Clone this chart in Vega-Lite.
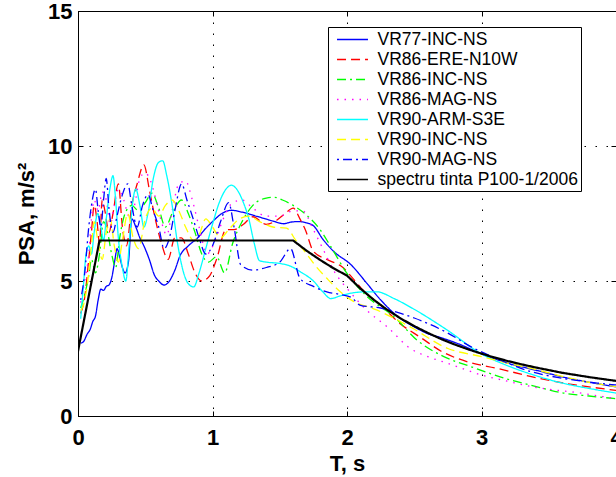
{
  "$schema": "https://vega.github.io/schema/vega-lite/v6.json",
  "width": 538,
  "height": 405,
  "autosize": {"type": "none"},
  "padding": {"left": 78, "top": 11, "right": 0, "bottom": 61},
  "background": "white",
  "config": {
    "view": {"stroke": "black", "strokeWidth": 1},
    "font": "Liberation Sans",
    "axis": {
      "domainColor": "black",
      "tickColor": "black",
      "tickSize": -5,
      "labelColor": "black",
      "labelFont": "Liberation Sans",
      "labelFontSize": 22,
      "labelFontWeight": "bold",
      "labelFlush": false,
      "titleFont": "Liberation Sans",
      "titleFontSize": 22,
      "titleFontWeight": "bold",
      "titleColor": "black",
      "gridColor": "black",
      "gridOpacity": 1,
      "gridDash": [1.5, 9.5],
      "gridWidth": 1
    },
    "legend": {
      "orient": "none",
      "legendX": 250,
      "legendY": 16,
      "strokeColor": "black",
      "fillColor": "white",
      "padding": 2.5,
      "labelFont": "Liberation Sans",
      "labelFontSize": 17.5,
      "labelColor": "black",
      "labelLimit": 400,
      "symbolType": "M-1.72,0H1.72",
      "symbolSize": 324,
      "symbolStrokeWidth": 1.6,
      "rowPadding": 1,
      "labelOffset": 15,
      "symbolOffset": 12
    }
  },
  "resolve": {"axis": {"x": "independent", "y": "independent"}},
  "datasets": {
    "curves": [
      {"s":"VR77-INC-NS","T":0.02,"PSA":2.7},{"s":"VR77-INC-NS","T":0.04,"PSA":2.75},{"s":"VR77-INC-NS","T":0.07,"PSA":3.05},{"s":"VR77-INC-NS","T":0.09,"PSA":3.2},{"s":"VR77-INC-NS","T":0.11,"PSA":3.5},{"s":"VR77-INC-NS","T":0.13,"PSA":3.7},{"s":"VR77-INC-NS","T":0.15,"PSA":4.3},{"s":"VR77-INC-NS","T":0.17,"PSA":4.7},{"s":"VR77-INC-NS","T":0.19,"PSA":4.65},{"s":"VR77-INC-NS","T":0.21,"PSA":4.8},{"s":"VR77-INC-NS","T":0.23,"PSA":4.85},{"s":"VR77-INC-NS","T":0.25,"PSA":5.1},{"s":"VR77-INC-NS","T":0.275,"PSA":5.8},{"s":"VR77-INC-NS","T":0.29,"PSA":6.2},{"s":"VR77-INC-NS","T":0.31,"PSA":5.9},{"s":"VR77-INC-NS","T":0.33,"PSA":5.5},{"s":"VR77-INC-NS","T":0.35,"PSA":5.3},{"s":"VR77-INC-NS","T":0.375,"PSA":5.7},{"s":"VR77-INC-NS","T":0.4,"PSA":7.3},{"s":"VR77-INC-NS","T":0.43,"PSA":7.0},{"s":"VR77-INC-NS","T":0.46,"PSA":6.6},{"s":"VR77-INC-NS","T":0.49,"PSA":6.3},{"s":"VR77-INC-NS","T":0.53,"PSA":5.8},{"s":"VR77-INC-NS","T":0.57,"PSA":5.2},{"s":"VR77-INC-NS","T":0.6,"PSA":5.0},{"s":"VR77-INC-NS","T":0.64,"PSA":4.85},{"s":"VR77-INC-NS","T":0.68,"PSA":5.0},{"s":"VR77-INC-NS","T":0.72,"PSA":5.4},{"s":"VR77-INC-NS","T":0.76,"PSA":5.95},{"s":"VR77-INC-NS","T":0.82,"PSA":6.3},{"s":"VR77-INC-NS","T":0.89,"PSA":6.6},{"s":"VR77-INC-NS","T":0.95,"PSA":6.95},{"s":"VR77-INC-NS","T":1.0,"PSA":7.2},{"s":"VR77-INC-NS","T":1.07,"PSA":7.5},{"s":"VR77-INC-NS","T":1.14,"PSA":7.62},{"s":"VR77-INC-NS","T":1.22,"PSA":7.55},{"s":"VR77-INC-NS","T":1.34,"PSA":7.38},{"s":"VR77-INC-NS","T":1.45,"PSA":7.22},{"s":"VR77-INC-NS","T":1.53,"PSA":7.12},{"s":"VR77-INC-NS","T":1.58,"PSA":7.18},{"s":"VR77-INC-NS","T":1.64,"PSA":7.2},{"s":"VR77-INC-NS","T":1.7,"PSA":7.15},{"s":"VR77-INC-NS","T":1.75,"PSA":7.05},{"s":"VR77-INC-NS","T":1.82,"PSA":6.55},{"s":"VR77-INC-NS","T":1.9,"PSA":6.1},{"s":"VR77-INC-NS","T":2.03,"PSA":5.6},{"s":"VR77-INC-NS","T":2.15,"PSA":4.9},{"s":"VR77-INC-NS","T":2.25,"PSA":4.3},{"s":"VR77-INC-NS","T":2.4,"PSA":3.6},{"s":"VR77-INC-NS","T":2.5,"PSA":3.3},{"s":"VR77-INC-NS","T":2.6,"PSA":3.05},{"s":"VR77-INC-NS","T":2.7,"PSA":2.9},{"s":"VR77-INC-NS","T":2.84,"PSA":2.65},{"s":"VR77-INC-NS","T":3.0,"PSA":2.3},{"s":"VR77-INC-NS","T":3.2,"PSA":1.95},{"s":"VR77-INC-NS","T":3.4,"PSA":1.7},{"s":"VR77-INC-NS","T":3.6,"PSA":1.45},{"s":"VR77-INC-NS","T":3.8,"PSA":1.25},{"s":"VR77-INC-NS","T":4.0,"PSA":1.08},

      {"s":"VR86-ERE-N10W","T":0.02,"PSA":3.8},{"s":"VR86-ERE-N10W","T":0.05,"PSA":4.4},{"s":"VR86-ERE-N10W","T":0.08,"PSA":5.8},{"s":"VR86-ERE-N10W","T":0.1,"PSA":6.8},{"s":"VR86-ERE-N10W","T":0.12,"PSA":7.8},{"s":"VR86-ERE-N10W","T":0.14,"PSA":7.3},{"s":"VR86-ERE-N10W","T":0.16,"PSA":6.4},{"s":"VR86-ERE-N10W","T":0.18,"PSA":8.0},{"s":"VR86-ERE-N10W","T":0.2,"PSA":7.6},{"s":"VR86-ERE-N10W","T":0.23,"PSA":6.8},{"s":"VR86-ERE-N10W","T":0.26,"PSA":7.5},{"s":"VR86-ERE-N10W","T":0.3,"PSA":8.6},{"s":"VR86-ERE-N10W","T":0.33,"PSA":7.0},{"s":"VR86-ERE-N10W","T":0.36,"PSA":6.3},{"s":"VR86-ERE-N10W","T":0.4,"PSA":7.8},{"s":"VR86-ERE-N10W","T":0.44,"PSA":8.6},{"s":"VR86-ERE-N10W","T":0.49,"PSA":9.3},{"s":"VR86-ERE-N10W","T":0.53,"PSA":8.4},{"s":"VR86-ERE-N10W","T":0.57,"PSA":7.4},{"s":"VR86-ERE-N10W","T":0.62,"PSA":6.4},{"s":"VR86-ERE-N10W","T":0.67,"PSA":5.8},{"s":"VR86-ERE-N10W","T":0.72,"PSA":6.6},{"s":"VR86-ERE-N10W","T":0.77,"PSA":6.6},{"s":"VR86-ERE-N10W","T":0.82,"PSA":6.0},{"s":"VR86-ERE-N10W","T":0.87,"PSA":5.3},{"s":"VR86-ERE-N10W","T":0.92,"PSA":5.0},{"s":"VR86-ERE-N10W","T":0.98,"PSA":5.2},{"s":"VR86-ERE-N10W","T":1.03,"PSA":5.8},{"s":"VR86-ERE-N10W","T":1.1,"PSA":6.9},{"s":"VR86-ERE-N10W","T":1.16,"PSA":6.9},{"s":"VR86-ERE-N10W","T":1.23,"PSA":7.1},{"s":"VR86-ERE-N10W","T":1.3,"PSA":7.38},{"s":"VR86-ERE-N10W","T":1.4,"PSA":7.1},{"s":"VR86-ERE-N10W","T":1.48,"PSA":7.26},{"s":"VR86-ERE-N10W","T":1.54,"PSA":7.5},{"s":"VR86-ERE-N10W","T":1.6,"PSA":7.7},{"s":"VR86-ERE-N10W","T":1.65,"PSA":7.3},{"s":"VR86-ERE-N10W","T":1.69,"PSA":6.9},{"s":"VR86-ERE-N10W","T":1.75,"PSA":6.1},{"s":"VR86-ERE-N10W","T":1.85,"PSA":5.8},{"s":"VR86-ERE-N10W","T":1.97,"PSA":5.5},{"s":"VR86-ERE-N10W","T":2.06,"PSA":5.0},{"s":"VR86-ERE-N10W","T":2.14,"PSA":4.55},{"s":"VR86-ERE-N10W","T":2.25,"PSA":4.1},{"s":"VR86-ERE-N10W","T":2.4,"PSA":3.4},{"s":"VR86-ERE-N10W","T":2.55,"PSA":2.9},{"s":"VR86-ERE-N10W","T":2.7,"PSA":2.4},{"s":"VR86-ERE-N10W","T":2.9,"PSA":2.0},{"s":"VR86-ERE-N10W","T":3.12,"PSA":1.76},{"s":"VR86-ERE-N10W","T":3.37,"PSA":1.46},{"s":"VR86-ERE-N10W","T":3.61,"PSA":1.22},{"s":"VR86-ERE-N10W","T":3.8,"PSA":1.08},{"s":"VR86-ERE-N10W","T":4.0,"PSA":0.95},

      {"s":"VR86-INC-NS","T":0.02,"PSA":4.0},{"s":"VR86-INC-NS","T":0.05,"PSA":4.5},{"s":"VR86-INC-NS","T":0.08,"PSA":5.2},{"s":"VR86-INC-NS","T":0.1,"PSA":5.8},{"s":"VR86-INC-NS","T":0.13,"PSA":5.3},{"s":"VR86-INC-NS","T":0.16,"PSA":6.0},{"s":"VR86-INC-NS","T":0.19,"PSA":7.2},{"s":"VR86-INC-NS","T":0.22,"PSA":6.8},{"s":"VR86-INC-NS","T":0.25,"PSA":6.0},{"s":"VR86-INC-NS","T":0.28,"PSA":5.5},{"s":"VR86-INC-NS","T":0.31,"PSA":6.6},{"s":"VR86-INC-NS","T":0.35,"PSA":7.5},{"s":"VR86-INC-NS","T":0.4,"PSA":7.8},{"s":"VR86-INC-NS","T":0.45,"PSA":7.6},{"s":"VR86-INC-NS","T":0.5,"PSA":7.9},{"s":"VR86-INC-NS","T":0.55,"PSA":8.25},{"s":"VR86-INC-NS","T":0.6,"PSA":7.7},{"s":"VR86-INC-NS","T":0.65,"PSA":7.0},{"s":"VR86-INC-NS","T":0.7,"PSA":7.5},{"s":"VR86-INC-NS","T":0.77,"PSA":8.0},{"s":"VR86-INC-NS","T":0.82,"PSA":7.5},{"s":"VR86-INC-NS","T":0.87,"PSA":6.8},{"s":"VR86-INC-NS","T":0.92,"PSA":6.0},{"s":"VR86-INC-NS","T":0.97,"PSA":5.7},{"s":"VR86-INC-NS","T":1.03,"PSA":5.9},{"s":"VR86-INC-NS","T":1.09,"PSA":5.3},{"s":"VR86-INC-NS","T":1.15,"PSA":6.4},{"s":"VR86-INC-NS","T":1.22,"PSA":7.2},{"s":"VR86-INC-NS","T":1.3,"PSA":7.8},{"s":"VR86-INC-NS","T":1.4,"PSA":8.07},{"s":"VR86-INC-NS","T":1.46,"PSA":8.1},{"s":"VR86-INC-NS","T":1.52,"PSA":8.0},{"s":"VR86-INC-NS","T":1.6,"PSA":7.8},{"s":"VR86-INC-NS","T":1.7,"PSA":7.44},{"s":"VR86-INC-NS","T":1.8,"PSA":6.9},{"s":"VR86-INC-NS","T":1.88,"PSA":6.27},{"s":"VR86-INC-NS","T":2.0,"PSA":5.28},{"s":"VR86-INC-NS","T":2.15,"PSA":4.42},{"s":"VR86-INC-NS","T":2.35,"PSA":3.68},{"s":"VR86-INC-NS","T":2.52,"PSA":2.81},{"s":"VR86-INC-NS","T":2.72,"PSA":2.2},{"s":"VR86-INC-NS","T":2.92,"PSA":1.83},{"s":"VR86-INC-NS","T":3.17,"PSA":1.4},{"s":"VR86-INC-NS","T":3.4,"PSA":1.1},{"s":"VR86-INC-NS","T":3.61,"PSA":0.85},{"s":"VR86-INC-NS","T":3.8,"PSA":0.74},{"s":"VR86-INC-NS","T":4.0,"PSA":0.64},

      {"s":"VR86-MAG-NS","T":0.02,"PSA":4.2},{"s":"VR86-MAG-NS","T":0.05,"PSA":5.0},{"s":"VR86-MAG-NS","T":0.08,"PSA":6.0},{"s":"VR86-MAG-NS","T":0.1,"PSA":7.3},{"s":"VR86-MAG-NS","T":0.12,"PSA":8.0},{"s":"VR86-MAG-NS","T":0.15,"PSA":7.6},{"s":"VR86-MAG-NS","T":0.18,"PSA":8.3},{"s":"VR86-MAG-NS","T":0.21,"PSA":8.0},{"s":"VR86-MAG-NS","T":0.24,"PSA":7.1},{"s":"VR86-MAG-NS","T":0.27,"PSA":7.8},{"s":"VR86-MAG-NS","T":0.3,"PSA":8.4},{"s":"VR86-MAG-NS","T":0.34,"PSA":8.0},{"s":"VR86-MAG-NS","T":0.38,"PSA":7.4},{"s":"VR86-MAG-NS","T":0.42,"PSA":7.8},{"s":"VR86-MAG-NS","T":0.46,"PSA":8.8},{"s":"VR86-MAG-NS","T":0.5,"PSA":9.0},{"s":"VR86-MAG-NS","T":0.54,"PSA":8.7},{"s":"VR86-MAG-NS","T":0.58,"PSA":8.0},{"s":"VR86-MAG-NS","T":0.62,"PSA":7.2},{"s":"VR86-MAG-NS","T":0.66,"PSA":6.7},{"s":"VR86-MAG-NS","T":0.7,"PSA":7.6},{"s":"VR86-MAG-NS","T":0.75,"PSA":8.6},{"s":"VR86-MAG-NS","T":0.8,"PSA":8.7},{"s":"VR86-MAG-NS","T":0.85,"PSA":8.0},{"s":"VR86-MAG-NS","T":0.9,"PSA":7.0},{"s":"VR86-MAG-NS","T":0.96,"PSA":6.0},{"s":"VR86-MAG-NS","T":1.02,"PSA":6.5},{"s":"VR86-MAG-NS","T":1.08,"PSA":7.3},{"s":"VR86-MAG-NS","T":1.15,"PSA":7.9},{"s":"VR86-MAG-NS","T":1.22,"PSA":8.0},{"s":"VR86-MAG-NS","T":1.3,"PSA":7.7},{"s":"VR86-MAG-NS","T":1.4,"PSA":7.4},{"s":"VR86-MAG-NS","T":1.5,"PSA":7.4},{"s":"VR86-MAG-NS","T":1.6,"PSA":7.6},{"s":"VR86-MAG-NS","T":1.67,"PSA":7.6},{"s":"VR86-MAG-NS","T":1.75,"PSA":6.9},{"s":"VR86-MAG-NS","T":1.82,"PSA":6.2},{"s":"VR86-MAG-NS","T":1.9,"PSA":5.4},{"s":"VR86-MAG-NS","T":2.03,"PSA":4.55},{"s":"VR86-MAG-NS","T":2.15,"PSA":3.9},{"s":"VR86-MAG-NS","T":2.3,"PSA":3.3},{"s":"VR86-MAG-NS","T":2.47,"PSA":2.5},{"s":"VR86-MAG-NS","T":2.6,"PSA":2.2},{"s":"VR86-MAG-NS","T":2.75,"PSA":1.95},{"s":"VR86-MAG-NS","T":3.0,"PSA":1.52},{"s":"VR86-MAG-NS","T":3.2,"PSA":1.28},{"s":"VR86-MAG-NS","T":3.37,"PSA":1.09},{"s":"VR86-MAG-NS","T":3.55,"PSA":0.96},{"s":"VR86-MAG-NS","T":3.74,"PSA":0.85},{"s":"VR86-MAG-NS","T":3.9,"PSA":0.72},{"s":"VR86-MAG-NS","T":4.0,"PSA":0.65},

      {"s":"VR90-ARM-S3E","T":0.02,"PSA":3.6},{"s":"VR90-ARM-S3E","T":0.04,"PSA":4.8},{"s":"VR90-ARM-S3E","T":0.06,"PSA":6.0},{"s":"VR90-ARM-S3E","T":0.08,"PSA":6.3},{"s":"VR90-ARM-S3E","T":0.1,"PSA":6.0},{"s":"VR90-ARM-S3E","T":0.12,"PSA":6.8},{"s":"VR90-ARM-S3E","T":0.147,"PSA":7.5},{"s":"VR90-ARM-S3E","T":0.17,"PSA":7.0},{"s":"VR90-ARM-S3E","T":0.19,"PSA":6.5},{"s":"VR90-ARM-S3E","T":0.21,"PSA":7.3},{"s":"VR90-ARM-S3E","T":0.24,"PSA":8.5},{"s":"VR90-ARM-S3E","T":0.26,"PSA":8.9},{"s":"VR90-ARM-S3E","T":0.28,"PSA":8.0},{"s":"VR90-ARM-S3E","T":0.3,"PSA":6.6},{"s":"VR90-ARM-S3E","T":0.33,"PSA":5.5},{"s":"VR90-ARM-S3E","T":0.355,"PSA":5.0},{"s":"VR90-ARM-S3E","T":0.38,"PSA":6.3},{"s":"VR90-ARM-S3E","T":0.4,"PSA":7.6},{"s":"VR90-ARM-S3E","T":0.43,"PSA":8.4},{"s":"VR90-ARM-S3E","T":0.46,"PSA":7.8},{"s":"VR90-ARM-S3E","T":0.49,"PSA":7.0},{"s":"VR90-ARM-S3E","T":0.52,"PSA":7.5},{"s":"VR90-ARM-S3E","T":0.56,"PSA":8.8},{"s":"VR90-ARM-S3E","T":0.6,"PSA":9.4},{"s":"VR90-ARM-S3E","T":0.63,"PSA":9.45},{"s":"VR90-ARM-S3E","T":0.66,"PSA":8.9},{"s":"VR90-ARM-S3E","T":0.7,"PSA":7.8},{"s":"VR90-ARM-S3E","T":0.74,"PSA":6.4},{"s":"VR90-ARM-S3E","T":0.78,"PSA":5.4},{"s":"VR90-ARM-S3E","T":0.82,"PSA":4.9},{"s":"VR90-ARM-S3E","T":0.86,"PSA":4.78},{"s":"VR90-ARM-S3E","T":0.9,"PSA":5.3},{"s":"VR90-ARM-S3E","T":0.95,"PSA":6.2},{"s":"VR90-ARM-S3E","T":1.0,"PSA":7.1},{"s":"VR90-ARM-S3E","T":1.05,"PSA":7.9},{"s":"VR90-ARM-S3E","T":1.1,"PSA":8.4},{"s":"VR90-ARM-S3E","T":1.14,"PSA":8.55},{"s":"VR90-ARM-S3E","T":1.18,"PSA":8.4},{"s":"VR90-ARM-S3E","T":1.23,"PSA":7.9},{"s":"VR90-ARM-S3E","T":1.27,"PSA":7.3},{"s":"VR90-ARM-S3E","T":1.31,"PSA":6.4},{"s":"VR90-ARM-S3E","T":1.35,"PSA":5.75},{"s":"VR90-ARM-S3E","T":1.4,"PSA":5.7},{"s":"VR90-ARM-S3E","T":1.5,"PSA":5.65},{"s":"VR90-ARM-S3E","T":1.58,"PSA":5.55},{"s":"VR90-ARM-S3E","T":1.65,"PSA":5.35},{"s":"VR90-ARM-S3E","T":1.75,"PSA":5.0},{"s":"VR90-ARM-S3E","T":1.82,"PSA":4.6},{"s":"VR90-ARM-S3E","T":1.88,"PSA":4.35},{"s":"VR90-ARM-S3E","T":1.95,"PSA":4.45},{"s":"VR90-ARM-S3E","T":2.03,"PSA":4.55},{"s":"VR90-ARM-S3E","T":2.15,"PSA":4.6},{"s":"VR90-ARM-S3E","T":2.22,"PSA":4.6},{"s":"VR90-ARM-S3E","T":2.35,"PSA":4.35},{"s":"VR90-ARM-S3E","T":2.5,"PSA":3.95},{"s":"VR90-ARM-S3E","T":2.74,"PSA":3.2},{"s":"VR90-ARM-S3E","T":3.0,"PSA":2.3},{"s":"VR90-ARM-S3E","T":3.2,"PSA":1.85},{"s":"VR90-ARM-S3E","T":3.4,"PSA":1.5},{"s":"VR90-ARM-S3E","T":3.6,"PSA":1.22},{"s":"VR90-ARM-S3E","T":3.8,"PSA":1.02},{"s":"VR90-ARM-S3E","T":4.0,"PSA":0.85},

      {"s":"VR90-INC-NS","T":0.02,"PSA":3.9},{"s":"VR90-INC-NS","T":0.04,"PSA":4.1},{"s":"VR90-INC-NS","T":0.07,"PSA":4.9},{"s":"VR90-INC-NS","T":0.1,"PSA":6.3},{"s":"VR90-INC-NS","T":0.12,"PSA":7.2},{"s":"VR90-INC-NS","T":0.15,"PSA":6.4},{"s":"VR90-INC-NS","T":0.18,"PSA":5.8},{"s":"VR90-INC-NS","T":0.21,"PSA":6.8},{"s":"VR90-INC-NS","T":0.24,"PSA":7.3},{"s":"VR90-INC-NS","T":0.27,"PSA":6.3},{"s":"VR90-INC-NS","T":0.3,"PSA":5.7},{"s":"VR90-INC-NS","T":0.33,"PSA":6.5},{"s":"VR90-INC-NS","T":0.37,"PSA":7.5},{"s":"VR90-INC-NS","T":0.41,"PSA":6.6},{"s":"VR90-INC-NS","T":0.45,"PSA":6.2},{"s":"VR90-INC-NS","T":0.5,"PSA":7.3},{"s":"VR90-INC-NS","T":0.55,"PSA":7.7},{"s":"VR90-INC-NS","T":0.6,"PSA":7.4},{"s":"VR90-INC-NS","T":0.65,"PSA":7.8},{"s":"VR90-INC-NS","T":0.7,"PSA":8.0},{"s":"VR90-INC-NS","T":0.75,"PSA":7.6},{"s":"VR90-INC-NS","T":0.8,"PSA":7.0},{"s":"VR90-INC-NS","T":0.86,"PSA":6.5},{"s":"VR90-INC-NS","T":0.9,"PSA":6.7},{"s":"VR90-INC-NS","T":0.95,"PSA":7.3},{"s":"VR90-INC-NS","T":1.0,"PSA":7.0},{"s":"VR90-INC-NS","T":1.06,"PSA":6.6},{"s":"VR90-INC-NS","T":1.12,"PSA":6.9},{"s":"VR90-INC-NS","T":1.2,"PSA":7.3},{"s":"VR90-INC-NS","T":1.27,"PSA":7.4},{"s":"VR90-INC-NS","T":1.35,"PSA":7.2},{"s":"VR90-INC-NS","T":1.45,"PSA":7.0},{"s":"VR90-INC-NS","T":1.55,"PSA":6.96},{"s":"VR90-INC-NS","T":1.62,"PSA":6.5},{"s":"VR90-INC-NS","T":1.7,"PSA":6.0},{"s":"VR90-INC-NS","T":1.76,"PSA":5.6},{"s":"VR90-INC-NS","T":1.85,"PSA":5.1},{"s":"VR90-INC-NS","T":1.95,"PSA":4.6},{"s":"VR90-INC-NS","T":2.03,"PSA":4.3},{"s":"VR90-INC-NS","T":2.22,"PSA":3.93},{"s":"VR90-INC-NS","T":2.47,"PSA":3.3},{"s":"VR90-INC-NS","T":2.75,"PSA":2.5},{"s":"VR90-INC-NS","T":3.0,"PSA":2.2},{"s":"VR90-INC-NS","T":3.2,"PSA":1.95},{"s":"VR90-INC-NS","T":3.37,"PSA":1.76},{"s":"VR90-INC-NS","T":3.61,"PSA":1.46},{"s":"VR90-INC-NS","T":3.8,"PSA":1.25},{"s":"VR90-INC-NS","T":4.0,"PSA":1.09},

      {"s":"VR90-MAG-NS","T":0.02,"PSA":4.3},{"s":"VR90-MAG-NS","T":0.05,"PSA":5.3},{"s":"VR90-MAG-NS","T":0.08,"PSA":7.0},{"s":"VR90-MAG-NS","T":0.1,"PSA":7.8},{"s":"VR90-MAG-NS","T":0.13,"PSA":8.4},{"s":"VR90-MAG-NS","T":0.15,"PSA":7.6},{"s":"VR90-MAG-NS","T":0.17,"PSA":7.0},{"s":"VR90-MAG-NS","T":0.19,"PSA":8.0},{"s":"VR90-MAG-NS","T":0.21,"PSA":8.8},{"s":"VR90-MAG-NS","T":0.23,"PSA":7.7},{"s":"VR90-MAG-NS","T":0.26,"PSA":6.8},{"s":"VR90-MAG-NS","T":0.29,"PSA":7.4},{"s":"VR90-MAG-NS","T":0.33,"PSA":8.2},{"s":"VR90-MAG-NS","T":0.37,"PSA":8.6},{"s":"VR90-MAG-NS","T":0.4,"PSA":7.8},{"s":"VR90-MAG-NS","T":0.44,"PSA":7.0},{"s":"VR90-MAG-NS","T":0.48,"PSA":7.8},{"s":"VR90-MAG-NS","T":0.52,"PSA":8.2},{"s":"VR90-MAG-NS","T":0.56,"PSA":7.6},{"s":"VR90-MAG-NS","T":0.6,"PSA":7.0},{"s":"VR90-MAG-NS","T":0.64,"PSA":6.2},{"s":"VR90-MAG-NS","T":0.68,"PSA":6.6},{"s":"VR90-MAG-NS","T":0.72,"PSA":7.6},{"s":"VR90-MAG-NS","T":0.77,"PSA":8.6},{"s":"VR90-MAG-NS","T":0.81,"PSA":8.0},{"s":"VR90-MAG-NS","T":0.85,"PSA":7.4},{"s":"VR90-MAG-NS","T":0.9,"PSA":6.6},{"s":"VR90-MAG-NS","T":0.95,"PSA":6.0},{"s":"VR90-MAG-NS","T":1.0,"PSA":6.3},{"s":"VR90-MAG-NS","T":1.06,"PSA":7.2},{"s":"VR90-MAG-NS","T":1.12,"PSA":7.9},{"s":"VR90-MAG-NS","T":1.16,"PSA":7.0},{"s":"VR90-MAG-NS","T":1.21,"PSA":5.6},{"s":"VR90-MAG-NS","T":1.3,"PSA":5.4},{"s":"VR90-MAG-NS","T":1.4,"PSA":5.5},{"s":"VR90-MAG-NS","T":1.5,"PSA":5.7},{"s":"VR90-MAG-NS","T":1.58,"PSA":6.2},{"s":"VR90-MAG-NS","T":1.65,"PSA":5.1},{"s":"VR90-MAG-NS","T":1.75,"PSA":4.8},{"s":"VR90-MAG-NS","T":1.85,"PSA":4.6},{"s":"VR90-MAG-NS","T":1.95,"PSA":4.5},{"s":"VR90-MAG-NS","T":2.03,"PSA":4.4},{"s":"VR90-MAG-NS","T":2.1,"PSA":4.1},{"s":"VR90-MAG-NS","T":2.25,"PSA":4.0},{"s":"VR90-MAG-NS","T":2.4,"PSA":3.8},{"s":"VR90-MAG-NS","T":2.5,"PSA":3.63},{"s":"VR90-MAG-NS","T":2.75,"PSA":3.07},{"s":"VR90-MAG-NS","T":2.92,"PSA":2.57},{"s":"VR90-MAG-NS","T":3.14,"PSA":2.07},{"s":"VR90-MAG-NS","T":3.37,"PSA":1.64},{"s":"VR90-MAG-NS","T":3.6,"PSA":1.4},{"s":"VR90-MAG-NS","T":3.86,"PSA":1.22},{"s":"VR90-MAG-NS","T":4.0,"PSA":1.15}
    ],
    "code": [
      {"s":"spectru tinta P100-1/2006","T":0,"PSA":2.4},{"s":"spectru tinta P100-1/2006","T":0.16,"PSA":6.5},{"s":"spectru tinta P100-1/2006","T":1.6,"PSA":6.5},{"s":"spectru tinta P100-1/2006","T":1.7,"PSA":6.12},{"s":"spectru tinta P100-1/2006","T":1.8,"PSA":5.78},{"s":"spectru tinta P100-1/2006","T":1.9,"PSA":5.47},{"s":"spectru tinta P100-1/2006","T":2.0,"PSA":5.2},{"s":"spectru tinta P100-1/2006","T":2.1,"PSA":4.72},{"s":"spectru tinta P100-1/2006","T":2.2,"PSA":4.3},{"s":"spectru tinta P100-1/2006","T":2.3,"PSA":3.93},{"s":"spectru tinta P100-1/2006","T":2.4,"PSA":3.61},{"s":"spectru tinta P100-1/2006","T":2.5,"PSA":3.33},{"s":"spectru tinta P100-1/2006","T":2.6,"PSA":3.08},{"s":"spectru tinta P100-1/2006","T":2.7,"PSA":2.85},{"s":"spectru tinta P100-1/2006","T":2.8,"PSA":2.65},{"s":"spectru tinta P100-1/2006","T":2.9,"PSA":2.47},{"s":"spectru tinta P100-1/2006","T":3.0,"PSA":2.31},{"s":"spectru tinta P100-1/2006","T":3.1,"PSA":2.16},{"s":"spectru tinta P100-1/2006","T":3.2,"PSA":2.03},{"s":"spectru tinta P100-1/2006","T":3.3,"PSA":1.91},{"s":"spectru tinta P100-1/2006","T":3.4,"PSA":1.8},{"s":"spectru tinta P100-1/2006","T":3.5,"PSA":1.7},{"s":"spectru tinta P100-1/2006","T":3.6,"PSA":1.6},{"s":"spectru tinta P100-1/2006","T":3.7,"PSA":1.52},{"s":"spectru tinta P100-1/2006","T":3.8,"PSA":1.44},{"s":"spectru tinta P100-1/2006","T":3.9,"PSA":1.37},{"s":"spectru tinta P100-1/2006","T":4.0,"PSA":1.3}
    ]
  },
  "layer": [
    {
      "data": {"name": "curves"},
      "mark": {"type": "line", "strokeWidth": 1.3, "interpolate": "monotone", "clip": true},
      "encoding": {
        "x": {"field": "T", "type": "quantitative", "scale": {"domain": [0, 4], "nice": false}, "axis": {"values": [0, 1, 2, 3, 4], "format": "d", "labelPadding": 16, "titlePadding": 5}, "title": "T, s"},
        "y": {"field": "PSA", "type": "quantitative", "scale": {"domain": [0, 15], "nice": false}, "axis": {"values": [0, 5, 10, 15], "format": "d", "labelPadding": 11, "titlePadding": 9}, "title": "PSA, m/s²"},
        "color": {"field": "s", "type": "nominal", "scale": {"domain": ["VR77-INC-NS","VR86-ERE-N10W","VR86-INC-NS","VR86-MAG-NS","VR90-ARM-S3E","VR90-INC-NS","VR90-MAG-NS","spectru tinta P100-1/2006"], "range": ["#0000ff","#ff0000","#00ff00","#ff00ff","#00ffff","#ffff00","#0000ff","#000000"]}, "legend": {"title": null}},
        "strokeDash": {"field": "s", "type": "nominal", "scale": {"domain": ["VR77-INC-NS","VR86-ERE-N10W","VR86-INC-NS","VR86-MAG-NS","VR90-ARM-S3E","VR90-INC-NS","VR90-MAG-NS","spectru tinta P100-1/2006"], "range": [[1,0],[9,5],[9,4,2,4],[1.5,6],[1,0],[9,5],[2,4,9,4],[1,0]]}, "legend": {"title": null}}
      }
    },
    {
      "data": {"name": "code"},
      "mark": {"type": "line", "strokeWidth": 2.2, "clip": true},
      "encoding": {
        "x": {"field": "T", "type": "quantitative", "axis": {"orient": "top", "values": [1, 2, 3], "labels": false, "grid": false, "domain": false, "title": null}},
        "y": {"field": "PSA", "type": "quantitative", "axis": {"orient": "right", "values": [5, 10], "labels": false, "grid": false, "domain": false, "title": null}},
        "color": {"field": "s", "type": "nominal"},
        "strokeDash": {"field": "s", "type": "nominal"}
      }
    }
  ]
}
